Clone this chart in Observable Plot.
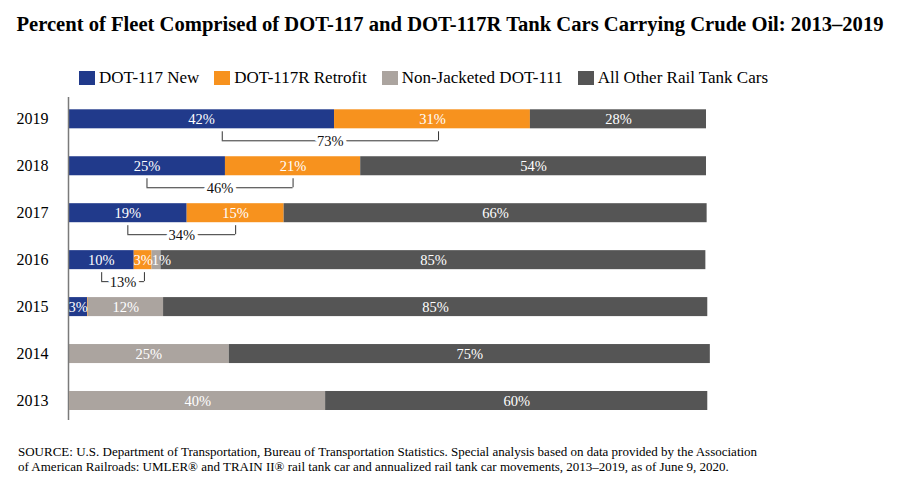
<!DOCTYPE html>
<html>
<head>
<meta charset="utf-8">
<script src="https://cdn.jsdelivr.net/npm/d3@7"></script>
<script src="https://cdn.jsdelivr.net/npm/@observablehq/plot@0.6"></script>
<style>
  html, body { margin: 0; padding: 0; background: #fff; }
  body { width: 900px; height: 500px; position: relative; overflow: hidden; font-family: 'Liberation Serif', 'Times New Roman', serif; color: #000; }
  #title { position: absolute; top: 12px; left: 0; width: 900px; text-align: center; font-weight: bold; font-size: 20.6px; line-height: 24px; white-space: nowrap; }
  #legend { position: absolute; top: 68px; left: 79px; height: 20px; display: flex; align-items: center; font-size: 17px; white-space: nowrap; }
  .item { display: flex; align-items: center; margin-right: 15px; }
  .sw { width: 16px; height: 14px; margin-right: 4px; }
  #chart { position: absolute; top: 90px; left: 0; }
  #source { position: absolute; top: 444px; left: 18px; font-size: 13px; line-height: 15px; white-space: nowrap; }
</style>
</head>
<body>
<div id="title">Percent of Fleet Comprised of DOT-117 and DOT-117R Tank Cars Carrying Crude Oil: 2013–2019</div>
<div id="legend"></div>
<div id="chart"></div>
<div id="source">SOURCE: U.S. Department of Transportation, Bureau of Transportation Statistics. Special analysis based on data provided by the Association<br>of American Railroads: UMLER® and TRAIN II® rail tank car and annualized rail tank car movements, 2013–2019, as of June 9, 2020.</div>
<script>
const years = ["2019", "2018", "2017", "2016", "2015", "2014", "2013"];
const categories = ["DOT-117 New", "DOT-117R Retrofit", "Non-Jacketed DOT-111", "All Other Rail Tank Cars"];
const colors = ["#213a8b", "#f7921e", "#aba49f", "#555555"];
const dot117New   = [41.7, 24.6, 18.6, 10.3, 3.0, 0, 0];
const dot117R     = [30.7, 21.2, 15.2, 2.8, 0.1, 0, 0.2];
const nonJacketed = [0, 0, 0, 1.4, 11.8, 25.2, 40.1];
const allOther    = [27.6, 54.2, 66.3, 85.4, 85.3, 75.4, 59.9];

// brackets combining DOT-117 New + DOT-117R Retrofit
const bracketYears = ["2019", "2018", "2017", "2016"];
const bracketStart = [24.1, 12.3, 9.3, 5.2];
const bracketEnd   = [58.0, 35.2, 26.2, 11.9];

const series = [dot117New, dot117R, nonJacketed, allOther];
const data = [];
years.forEach((yr, i) => {
  categories.forEach((c, j) => data.push({year: yr, category: c, value: series[j][i]}));
});
const brackets = bracketYears.map((yr, k) => {
  const i = years.indexOf(yr);
  return {year: yr, xs: bracketStart[k], xe: bracketEnd[k],
          label: (Math.round(dot117New[i]) + Math.round(dot117R[i])) + "%"};
});
const bracketEnds = brackets.flatMap(b => [{year: b.year, x: b.xs}, {year: b.year, x: b.xe}]);
const pct = v => Math.round(v) + "%";

// legend
const leg = document.getElementById("legend");
categories.forEach((c, j) => {
  const it = document.createElement("div");
  it.className = "item";
  it.innerHTML = `<div class="sw" style="background:${colors[j]}"></div><span>${c}</span>`;
  leg.appendChild(it);
});

const chart = Plot.plot({
  width: 900,
  height: 332,
  marginTop: 7,
  marginBottom: 2,
  marginLeft: 68,
  marginRight: 194,
  style: {fontFamily: "'Liberation Serif', 'Times New Roman', serif", background: "transparent"},
  x: {domain: [0, 100], axis: null},
  y: {domain: years, range: [19.3, 320], paddingInner: 0.595, paddingOuter: 0, round: false, label: null},
  color: {domain: categories, range: colors},
  marks: [
    Plot.barX(data, Plot.stackX({x: "value", y: "year", fill: "category"})),
    Plot.text(data, Plot.stackX({x: "value", y: "year",
      text: d => d.value >= 2 ? pct(d.value) : "", fill: "white", fontSize: 14.5})),
    Plot.text(data, Plot.stackX({x: "value", y: "year",
      text: d => (d.value >= 0.5 && d.value < 2) ? pct(d.value) : "", fill: "white", fontSize: 14.5, dx: 5})),
    Plot.tickX(bracketEnds, {x: "x", y: "year", dy: 12, insetTop: 10, stroke: "#333", strokeWidth: 1}),
    Plot.ruleY(brackets, {y: "year", x1: "xs", x2: "xe", dy: 21.5, stroke: "#333", strokeWidth: 1}),
    Plot.text(brackets, {x: d => (d.xs + d.xe) / 2, y: "year", text: "label", dy: 22,
      fill: "#111", stroke: "white", strokeWidth: 7, fontSize: 14.5}),
    Plot.ruleX([0], {stroke: "#7a7a7a", strokeWidth: 1.5}),
    Plot.axisY({tickSize: 0, tickPadding: 20, fontSize: 16, fill: "#000"})
  ]
});
document.getElementById("chart").appendChild(chart);
</script>
</body>
</html>
